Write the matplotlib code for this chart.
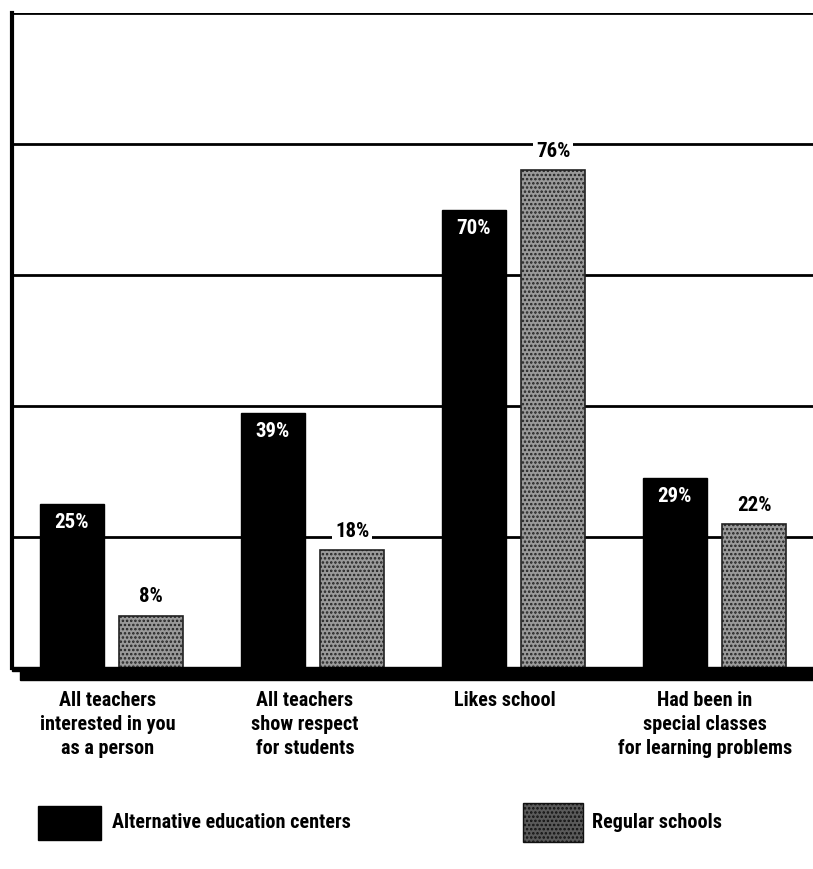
import matplotlib
matplotlib.use("Agg")
import matplotlib.pyplot as plt
from matplotlib import font_manager as fm
from matplotlib.patches import Rectangle

categories = [
    "All teachers\ninterested in you\nas a person",
    "All teachers\nshow respect\nfor students",
    "Likes school",
    "Had been in\nspecial classes\nfor learning problems",
]
alternative = [25, 39, 70, 29]
regular = [8, 18, 76, 22]
series_names = ["Alternative education centers", "Regular schools"]

# pick a condensed bold face if one is installed
_installed = {f.name for f in fm.fontManager.ttflist}
_prefs = ["Roboto Condensed", "Barlow Condensed", "Archivo Narrow", "PT Sans Narrow",
          "Liberation Sans Narrow", "Oswald", "DejaVu Sans"]
FACE = next(n for n in _prefs if n in _installed or n == "DejaVu Sans")
FONT = [FACE, "DejaVu Sans"]
plt.rcParams["font.family"] = FONT
plt.rcParams["hatch.linewidth"] = 1.2

W, H = 813, 869
fig = plt.figure(figsize=(W / 100, H / 100), dpi=100)
ax = fig.add_axes([12 / W, 1 - 668 / H, 1 - 12 / W, (668 - 13) / H])

x = range(len(categories))
bw = 0.318
off = 0.198

bars_a = ax.bar([i - off for i in x], alternative, width=bw, color="black",
                edgecolor="black", zorder=3)
bars_r = ax.bar([i + off for i in x], regular, width=bw, color="#9a9a9a",
                edgecolor="#222222", hatch="....", linewidth=1.2, zorder=3)

for b, v in zip(bars_a, alternative):
    ax.text(b.get_x() + b.get_width() / 2, v - 1.4, f"{v}%", ha="center",
            va="top", color="white", fontsize=15, fontweight="bold", zorder=4)
for b, v in zip(bars_r, regular):
    ax.text(b.get_x() + b.get_width() / 2, v + 1.4, f"{v}%", ha="center",
            va="bottom", color="black", fontsize=15, fontweight="bold", zorder=4,
            bbox=dict(facecolor="white", edgecolor="none", pad=2))

# horizontal rules every 20%
for y in range(20, 101, 20):
    ax.axhline(y, color="black", lw=2.0, zorder=1)

ax.set_xlim(-0.495, 3.49)
ax.set_ylim(0, 100)
ax.set_xticks([])
ax.set_yticks([])
for s in ["top", "right", "bottom"]:
    ax.spines[s].set_visible(False)
ax.spines["left"].set_linewidth(3)

# heavy base line with offset shadow
fig.add_artist(Rectangle((12 / W, 1 - 671 / H), 1, 4 / H, transform=fig.transFigure,
                         color="black", zorder=5))
fig.add_artist(Rectangle((20 / W, 1 - 680 / H), 1, 10 / H, transform=fig.transFigure,
                         color="black", zorder=5))

# category labels
centers_px = [108, 305, 505, 705]
for cx, lab in zip(centers_px, categories):
    fig.text(cx / W, 1 - 691 / H, lab, ha="center", va="top", fontsize=14.5,
             fontweight="bold", linespacing=1.35)

# legend
fig.add_artist(Rectangle((38 / W, 1 - 840 / H), 63 / W, 34 / H,
                         transform=fig.transFigure, color="black"))
fig.text(112 / W, 1 - 823 / H, series_names[0], ha="left", va="center",
         fontsize=14.5, fontweight="bold")
fig.add_artist(Rectangle((523 / W, 1 - 842 / H), 60 / W, 39 / H,
                         transform=fig.transFigure, facecolor="#5a5a5a",
                         edgecolor="#111111", hatch="....", lw=1))
fig.text(592 / W, 1 - 823 / H, series_names[1], ha="left", va="center",
         fontsize=14.5, fontweight="bold")

fig.savefig("out.png", dpi=100, facecolor="white")
